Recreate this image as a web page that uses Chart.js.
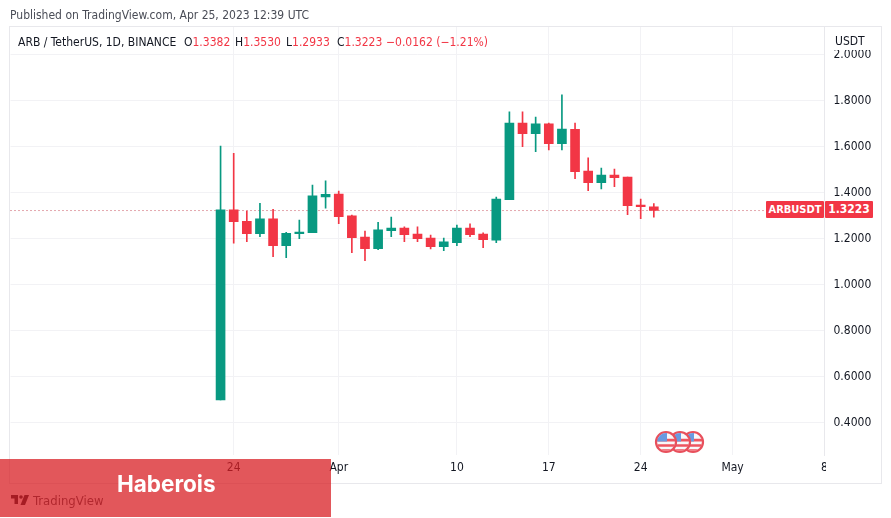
<!DOCTYPE html>
<html><head><meta charset="utf-8">
<script src="https://cdn.jsdelivr.net/npm/chart.js@4"></script>
<style>
html,body{margin:0;padding:0;background:#fff;width:891px;height:518px;overflow:hidden;font-family:"DejaVu Sans Condensed","Noto Sans",sans-serif;}
#c{position:absolute;left:0;top:0;}
.t{position:absolute;white-space:nowrap;font-size:12px;line-height:16px;}
.r{color:#f23645}
#frame{position:absolute;left:9px;top:26px;width:871px;height:456px;border:1px solid #e8e8ec;pointer-events:none;}
#capTop,#capBot{position:absolute;background:#fff;left:826px;width:54px;}
#capTop{top:27px;height:23px;}
#capBot{top:456px;height:26px;}
.tag{position:absolute;top:201px;height:17px;line-height:17px;background:#f23645;color:#fff;font-size:11px;font-weight:700;text-align:center;border-radius:1px;}
#banner{position:absolute;left:0;top:459px;width:331px;height:58px;background:rgba(216,31,36,.75);}
#brand{position:absolute;left:117px;top:468px;color:#fff;font:700 22.5px/32px Inter,"Noto Sans",sans-serif;}
</style></head><body>
<canvas id="c" width="891" height="518"></canvas>
<div id="capTop"></div><div id="capBot"></div>
<div id="frame"></div>
<div class="t" style="left:10px;top:7px;color:#4a4d57">Published on TradingView.com, Apr 25, 2023 12:39 UTC</div>
<div class="t" style="left:18px;top:34px;color:#131722">ARB / TetherUS, 1D, BINANCE</div>
<div class="t" style="left:184px;top:34px;color:#131722">O<span class="r">1.3382</span></div>
<div class="t" style="left:235px;top:34px;color:#131722">H<span class="r">1.3530</span></div>
<div class="t" style="left:286px;top:34px;color:#131722">L<span class="r">1.2933</span></div>
<div class="t" style="left:337px;top:34px;color:#131722">C<span class="r">1.3223</span></div>
<div class="t r" style="left:386px;top:34px">−0.0162 (−1.21%)</div>
<div class="t" style="left:835px;top:33px;color:#131722">USDT</div>
<div class="tag" style="left:766px;width:58px">ARBUSDT</div>
<div class="tag" style="left:825px;width:48px;font-size:12px">1.3223</div>
<svg style="position:absolute;left:650px;top:428px" width="60" height="28" viewBox="0 0 60 28">
<defs><g id="flag"><circle r="10" fill="#f8f8fa" stroke="#e8505c" stroke-width="2.2"/>
<path d="M-8.9 -3.2h17.8a9 9 0 0 1 .1 2.8h-17.9z" fill="#ee5560"/>
<path d="M-8.6 2.2h17.2a9 9 0 0 1 -1 2.6h-15.2z" fill="#ee5560"/>
<path d="M-5 7.2h10a9 9 0 0 1 -10 0z" fill="#ee5560"/>
<path d="M-8.9 -0.4a9 9 0 0 1 9.9 -8.6v8.6z" fill="#6a9ae0"/></g></defs>
<use href="#flag" x="43" y="14"/><use href="#flag" x="30" y="14"/><use href="#flag" x="16" y="14"/></svg>
<svg style="position:absolute;left:10px;top:495px" width="20" height="10" viewBox="0 0 36 20"><path d="M0 0h14v18H7V7H0z" fill="#131722"/><circle cx="20" cy="4" r="3.6" fill="#131722"/><path d="M27 0h9l-8 20h-9z" fill="#131722"/></svg>
<div class="t" style="left:33px;top:492px;font-size:13px;line-height:18px;color:#3f424c">TradingView</div>
<div id="banner"></div>
<div id="brand">Haberois</div>
<script>
const categories=["Mar 7","Mar 8","Mar 9","Mar 10","Mar 11","Mar 12","Mar 13","Mar 14","Mar 15","Mar 16","Mar 17","Mar 18","Mar 19","Mar 20","Mar 21","Mar 22","Mar 23","Mar 24","Mar 25","Mar 26","Mar 27","Mar 28","Mar 29","Mar 30","Mar 31","Apr 1","Apr 2","Apr 3","Apr 4","Apr 5","Apr 6","Apr 7","Apr 8","Apr 9","Apr 10","Apr 11","Apr 12","Apr 13","Apr 14","Apr 15","Apr 16","Apr 17","Apr 18","Apr 19","Apr 20","Apr 21","Apr 22","Apr 23","Apr 24","Apr 25","Apr 26","Apr 27","Apr 28","Apr 29","Apr 30","May 1","May 2","May 3","May 4","May 5","May 6","May 7","May 8"];
const candleDates=categories.slice(16,50);
const opens =[0.499,1.325,1.275,1.222,1.286,1.170,1.222,1.226,1.381,1.394,1.299,1.207,1.157,1.235,1.246,1.220,1.203,1.165,1.183,1.246,1.220,1.194,1.370,1.703,1.657,1.699,1.613,1.675,1.494,1.443,1.477,1.468,1.346,1.3382];
const highs =[1.603,1.571,1.320,1.354,1.328,1.228,1.281,1.433,1.451,1.407,1.303,1.233,1.271,1.294,1.251,1.251,1.216,1.203,1.259,1.264,1.225,1.381,1.751,1.751,1.729,1.703,1.825,1.703,1.551,1.507,1.503,1.468,1.372,1.353];
const lows  =[0.499,1.180,1.187,1.209,1.122,1.117,1.200,1.226,1.333,1.265,1.139,1.104,1.152,1.209,1.187,1.187,1.155,1.148,1.170,1.209,1.161,1.183,1.370,1.600,1.578,1.586,1.586,1.461,1.409,1.416,1.426,1.304,1.287,1.2933];
const closes=[1.325,1.274,1.222,1.286,1.170,1.223,1.229,1.386,1.393,1.296,1.204,1.157,1.238,1.246,1.217,1.200,1.165,1.186,1.246,1.217,1.196,1.372,1.703,1.657,1.699,1.613,1.677,1.491,1.443,1.477,1.465,1.343,1.339,1.3223];
const tickLabels={"Mar 24":"24","Apr 1":"Apr","Apr 10":"10","Apr 17":"17","Apr 24":"24","May 1":"May","May 8":"8"};
const lastClose=1.3223;
const up="#089981",down="#f23645",gridCol="#f2f2f5",textCol="#131722";
const tickFont='"DejaVu Sans Condensed","Noto Sans",sans-serif';
const colors=opens.map((o,i)=>closes[i]>=o?up:down);
new Chart(document.getElementById("c"),{
 data:{labels:categories,datasets:[
  {type:"line",data:categories.map(()=>lastClose),borderColor:"#c8505c",borderWidth:1,borderDash:[1,3],pointRadius:0,order:3},
  {type:"bar",grouped:false,data:candleDates.map((d,i)=>({x:d,y:[lows[i],highs[i]]})),backgroundColor:colors,barThickness:1,order:2},
  {type:"bar",grouped:false,data:candleDates.map((d,i)=>({x:d,y:[opens[i],closes[i]]})),backgroundColor:colors,barThickness:9,order:1}
 ]},
 options:{responsive:false,animation:false,devicePixelRatio:1,
  layout:{padding:{left:10.5,top:27,right:9.5,bottom:35}},
  plugins:{legend:{display:false},tooltip:{enabled:false}},
  scales:{
   x:{type:"category",offset:false,
    border:{display:false},
    grid:{offset:false,drawTicks:false,color:c=>tickLabels[categories[c.index]]?gridCol:"rgba(0,0,0,0)"},
    ticks:{autoSkip:false,maxRotation:0,minRotation:0,padding:6,color:textCol,font:{family:tickFont,size:12},
     callback:(v,i)=>tickLabels[categories[i]]||""},
    afterFit:s=>{s.height=28;}},
   y:{type:"linear",position:"right",min:0.2594,max:2.1203,
    border:{color:"#e8e8ec"},
    grid:{drawTicks:false,color:gridCol},
    ticks:{stepSize:0.2,includeBounds:false,padding:9,color:textCol,font:{family:tickFont,size:12},callback:v=>v.toFixed(4)},
    afterFit:s=>{s.width=57;}}
  }}
});
</script>
</body></html>
